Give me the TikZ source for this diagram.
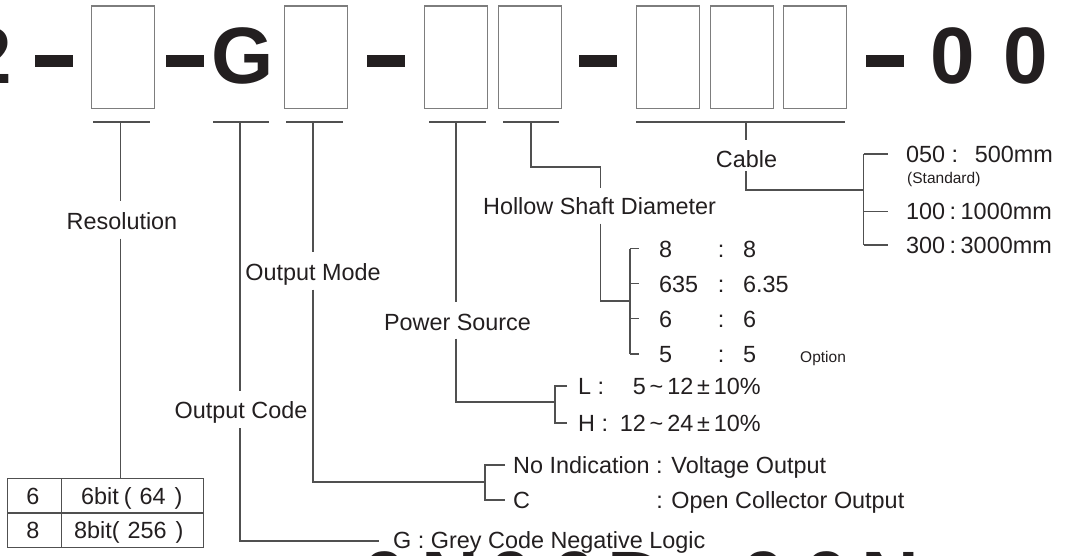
\documentclass[tikz,border=0pt]{standalone}
\usepackage{fontspec}
\setmainfont{Liberation Sans}
\definecolor{ink}{RGB}{35,31,32}
\definecolor{wire}{RGB}{80,80,80}
\definecolor{boxc}{RGB}{125,125,125}
\begin{document}
\begin{tikzpicture}[x=1pt,y=-1pt,
  wirel/.style={draw=wire, line width=1.2pt},
  slot/.style={draw=boxc, line width=1.4pt, minimum width=63pt, minimum height=102.5pt, inner sep=0pt, anchor=north west},
  bar/.style={fill=ink, draw=none, minimum width=38pt, minimum height=12pt, inner sep=0pt},
  big/.style={font=\fontsize{80}{80}\selectfont\bfseries, text=ink, inner sep=0pt},
  lbl/.style={font=\fontsize{23.4}{24}\selectfont, text=ink, text height=17pt, text depth=0pt, inner sep=0pt},
  opt/.style={font=\fontsize{23.4}{24}\selectfont, text=ink, text height=17pt, text depth=0pt, inner sep=0pt, anchor=west},
  optr/.style={opt, anchor=east},
  small/.style={font=\fontsize{15.5}{16}\selectfont, text=ink, text height=11pt, text depth=0pt, inner sep=0pt, anchor=west}
]
\useasboundingbox (0,0) rectangle (1069,556);
\fill[white] (0,0) rectangle (1069,556);

% clipped large glyphs (cut by the picture border)
\begin{scope}
\clip (0,0) rectangle (1069,556);
\node[big, anchor=base east] (two) at (12.6,84) {2};
\node[big, anchor=base] (q1) at (385,607) {0};
\node[big, anchor=base] (q2) at (450,607) {N};
\node[big, anchor=base] (q3) at (510.5,607) {0};
\node[big, anchor=base] (q4) at (575,607) {0};
\node[big, anchor=base west] (q5) at (607,607) {D};
\node[big, anchor=base] (q6) at (763.5,607) {0};
\node[big, anchor=base] (q7) at (826.5,607) {0};
\node[big, anchor=base] (q8) at (890,607) {N};
\end{scope}

% top code row
\node[bar] (d1) at (53.5,61) {};
\node[slot] (b1) at (90.6,5.5) {};
\node[bar] (d2) at (185,61) {};
\node[big, anchor=base] (g) at (242.3,84) {G};
\node[slot] (b2) at (284,5.5) {};
\node[bar] (d3) at (386,61) {};
\node[slot] (b3) at (424,5.5) {};
\node[slot] (b4) at (497.6,5.5) {};
\node[bar] (d4) at (598,61) {};
\node[slot] (b5) at (636,5.5) {};
\node[slot] (b6) at (709.5,5.5) {};
\node[slot] (b7) at (783,5.5) {};
\node[bar] (d5) at (885,61) {};
\node[big, anchor=base] (z1) at (952.5,84) {0};
\node[big, anchor=base] (z2) at (1026,84) {0};

% brackets under the slots
\draw[wirel] (93,122) -- (150,122);
\draw[wirel] (213,122) -- (269,122);
\draw[wirel] (286,122) -- (343,122);
\draw[wirel] (429,122) -- (486,122);
\draw[wirel] (503,122) -- (558.5,122);
\draw[wirel] (636,122) -- (844.5,122);
\coordinate (k1) at (120.5,122);
\coordinate (k2) at (240,122);
\coordinate (k3) at (313,122);
\coordinate (k4) at (456,122);
\coordinate (k5) at (531,122);
\coordinate (k6) at (746,122);

% Resolution
\node[lbl] (res) at (122,221) {Resolution};
\node[draw=wire, line width=1.2pt, minimum width=196pt, minimum height=68.6pt, inner sep=0pt, anchor=north west] (tab) at (7,478) {};
\coordinate (tdiv) at (61.3,478);
\draw[wirel] (tdiv) -- (tdiv |- tab.south);
\draw[wirel] (tab.west) -- (tab.east);
\node[lbl] (r6) at (33,495.5) {6};
\node[opt] (r6t) at (81,495.5) {6bit\kern5pt(\kern8pt64\kern9pt)};
\node[lbl] (r8) at (33,529.5) {8};
\node[opt] (r8t) at (74,529.5) {8bit(\kern8pt256\kern9pt)};
\draw[wirel, shorten >=11pt] (k1) -- (k1 |- res.north);
\draw[wirel, shorten <=9pt] (k1 |- res.south) -- (k1 |- tab.north);

% Output Code
\node[lbl] (oc) at (241,409.6) {Output Code};
\coordinate (c1) at (240,541);
\node[opt] (gl) at (393,540) {G : Grey Code Negative Logic};
\draw[wirel, shorten >=10pt] (k2) -- (k2 |- oc.north);
\draw[wirel, shorten <=10pt, shorten >=14pt] (k2 |- oc.south) -- (c1) -- (c1 -| gl.west);

% Output Mode
\node[lbl] (om) at (313,272) {Output Mode};
\coordinate (m1) at (313,482);
\coordinate (m2) at (485,482);
\coordinate (m3) at (485,465);
\coordinate (m4) at (485,500);
\node[opt] (om1) at (513,465) {No Indication : Voltage Output};
\node[opt] (om2) at (513,500) {\rlap{C}\phantom{No Indication }: Open Collector Output};
\draw[wirel, shorten >=11pt] (k3) -- (k3 |- om.north);
\draw[wirel, shorten <=9pt] (k3 |- om.south) -- (m1) -- (m2);
\draw[wirel] (om1.west) ++(-8,0) -- (m3) -- (m4) -- ([xshift=-8pt]om2.west);

% Power Source
\node[lbl] (ps) at (457.5,322) {Power Source};
\coordinate (p1) at (456,402);
\coordinate (p2) at (555,402);
\coordinate (p3) at (555,386);
\coordinate (p4) at (555,423);
\node[opt] (pl) at (578,386) {L :};
\node[optr] (plv) at (761,386) {5\,\textasciitilde\,12\,±\,10\%};
\node[opt] (ph) at (578,423) {H :};
\node[optr] (phv) at (761,423) {12\,\textasciitilde\,24\,±\,10\%};
\draw[wirel, shorten >=11pt] (k4) -- (k4 |- ps.north);
\draw[wirel, shorten <=8pt] (k4 |- ps.south) -- (p1) -- (p2);
\draw[wirel] ([xshift=-11pt]pl.west) -- (p3) -- (p4) -- ([xshift=-11pt]ph.west);

% Hollow Shaft Diameter
\node[lbl] (hs) at (599.5,206) {Hollow Shaft Diameter};
\coordinate (h1) at (531,167);
\coordinate (h2) at (600.5,167);
\coordinate (h3) at (600.5,301);
\coordinate (h4) at (630,301);
\draw[wirel, shorten >=9pt] (k5) -- (h1) -- (h2) -- (h2 |- hs.north);
\draw[wirel, shorten <=9pt] (h2 |- hs.south) -- (h3) -- (h4);
\coordinate (hb1) at (630,248.6);
\coordinate (hb2) at (630,283.7);
\coordinate (hb3) at (630,318.7);
\coordinate (hb4) at (630,354);
\draw[wirel] (hb1) -- (hb4);
\foreach \c in {hb1,hb2,hb3,hb4} \draw[wirel] (\c) -- ++(9,0);
\node[opt] (s1a) at (659,248.6) {8};
\node[opt] (s1b) at (717.7,248.6) {:};
\node[opt] (s1c) at (743,248.6) {8};
\node[opt] (s2a) at (659,283.7) {635};
\node[opt] (s2b) at (717.7,283.7) {:};
\node[opt] (s2c) at (743,283.7) {6.35};
\node[opt] (s3a) at (659,318.7) {6};
\node[opt] (s3b) at (717.7,318.7) {:};
\node[opt] (s3c) at (743,318.7) {6};
\node[opt] (s4a) at (659,354) {5};
\node[opt] (s4b) at (717.7,354) {:};
\node[opt] (s4c) at (743,354) {5};
\node[small] (optn) at (800,356.5) {Option};

% Cable
\node[lbl] (cab) at (746.5,159) {Cable};
\coordinate (cb1) at (746,190);
\coordinate (cb2) at (863.5,190);
\coordinate (cb3) at (863.5,154);
\coordinate (cb4) at (863.5,211.5);
\coordinate (cb5) at (863.5,245);
\draw[wirel, shorten >=10pt] (k6) -- (k6 |- cab.north);
\draw[wirel, shorten <=3.5pt] (k6 |- cab.south) -- (cb1) -- (cb2);
\draw[wirel] (cb3) -- (cb5);
\foreach \c in {cb3,cb4,cb5} \draw[wirel] (\c) -- ++(24,0);
\node[opt] (l1) at (906,154) {050 :};
\node[optr] (l1v) at (1053,154) {500mm};
\node[small] (std) at (907,178) {(Standard)};
\node[opt] (l2) at (906,211.5) {100\kern4.5pt:\kern4.5pt1000mm};
\node[opt] (l3) at (906,245) {300\kern4.5pt:\kern4.5pt3000mm};
\end{tikzpicture}
\end{document}
